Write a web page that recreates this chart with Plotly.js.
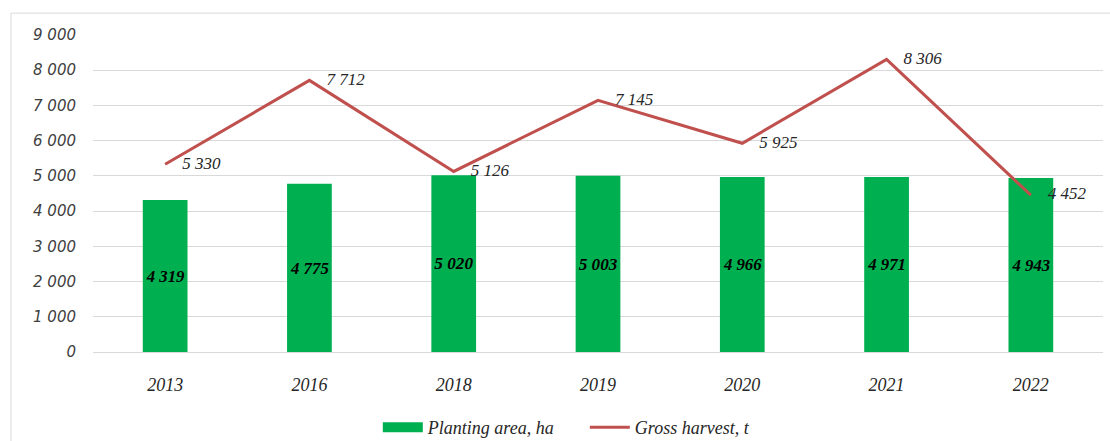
<!DOCTYPE html>
<html>
<head>
<meta charset="utf-8">
<script src="https://cdn.plot.ly/plotly-3.0.1.min.js"></script>
<style>html,body{margin:0;padding:0;background:#fff;}#chart{width:1110px;height:441px;}</style>
</head>
<body>
<div id="chart"></div>
<script>
const years = ['2013', '2016', '2018', '2019', '2020', '2021', '2022'];
const plantingArea = [4319, 4775, 5020, 5003, 4966, 4971, 4943];
const grossHarvest = [5330, 7712, 5126, 7145, 5925, 8306, 4452];
const yTicks = [0, 1000, 2000, 3000, 4000, 5000, 6000, 7000, 8000, 9000];
const seriesNames = ['Planting area, ha', 'Gross harvest, t'];

function fmt(v) {
  return String(v).replace(/\B(?=(\d{3})+(?!\d))/g, ' ');
}

const serif = 'Liberation Serif, Times New Roman, serif';
const green = '#00B050';
const red = '#C0504D';

const traces = [
  {
    type: 'bar',
    name: seriesNames[0],
    x: years,
    y: plantingArea,
    marker: {color: green},
    width: 0.31,
    text: plantingArea.map(fmt),
    textposition: 'inside',
    insidetextanchor: 'middle',
    textangle: 0,
    textfont: {family: serif, size: 18, color: '#000', style: 'italic', weight: 'bold'},
    showlegend: false,
    legendgroup: 'area'
  },
  {
    type: 'scatter',
    mode: 'lines',
    name: seriesNames[0],
    x: [null],
    y: [null],
    line: {color: green, width: 10},
    legendgroup: 'area',
    showlegend: true
  },
  {
    type: 'scatter',
    mode: 'lines+text',
    name: seriesNames[1],
    x: years,
    y: grossHarvest,
    line: {color: red, width: 3},
    text: grossHarvest.map(v => '\u00a0\u00a0\u00a0\u00a0' + fmt(v)),
    textposition: 'middle right',
    textfont: {family: serif, size: 17, color: '#262626', style: 'italic'},
    cliponaxis: false
  }
];

const layout = {
  width: 1110,
  height: 441,
  margin: {l: 93, r: 7, t: 35, b: 89, autoexpand: false},
  paper_bgcolor: '#fff',
  plot_bgcolor: '#fff',
  separators: '. ',
  showlegend: true,
  legend: {
    orientation: 'h',
    x: 0.282, xanchor: 'left',
    y: -0.238, yanchor: 'middle',
    font: {family: serif, size: 18, color: '#262626', style: 'italic'},
    itemwidth: 40,
    entrywidth: 152,
    traceorder: 'normal',
    tracegroupgap: 0
  },
  xaxis: {
    type: 'category',
    tickvals: years,
    ticktext: years,
    showgrid: false,
    showline: false,
    ticks: '',
    ticklabelstandoff: 20,
    tickfont: {family: serif, size: 18, color: '#262626', style: 'italic'}
  },
  yaxis: {
    range: [0, 9000],
    tickvals: yTicks,
    ticktext: yTicks.map(fmt),
    showgrid: true,
    gridcolor: '#d9d9d9',
    gridwidth: 1,
    zeroline: true,
    zerolinecolor: '#d9d9d9',
    zerolinewidth: 1,
    showline: false,
    ticks: '',
    ticklabelstandoff: 16,
    tickfont: {family: 'DejaVu Sans, sans-serif', size: 15, color: '#404040', style: 'italic'}
  },
  shapes: [
    {type: 'line', xref: 'paper', yref: 'paper', x0: -0.0812, x1: -0.0812, y0: 1.069, y1: -0.3, line: {color: '#d9d9d9', width: 1}},
    {type: 'line', xref: 'paper', yref: 'paper', x0: -0.0812, x1: 1.01, y0: 1.069, y1: 1.069, line: {color: '#d9d9d9', width: 1}}
  ]
};

Plotly.newPlot('chart', traces, layout, {displayModeBar: false, staticPlot: true});
</script>
</body>
</html>
